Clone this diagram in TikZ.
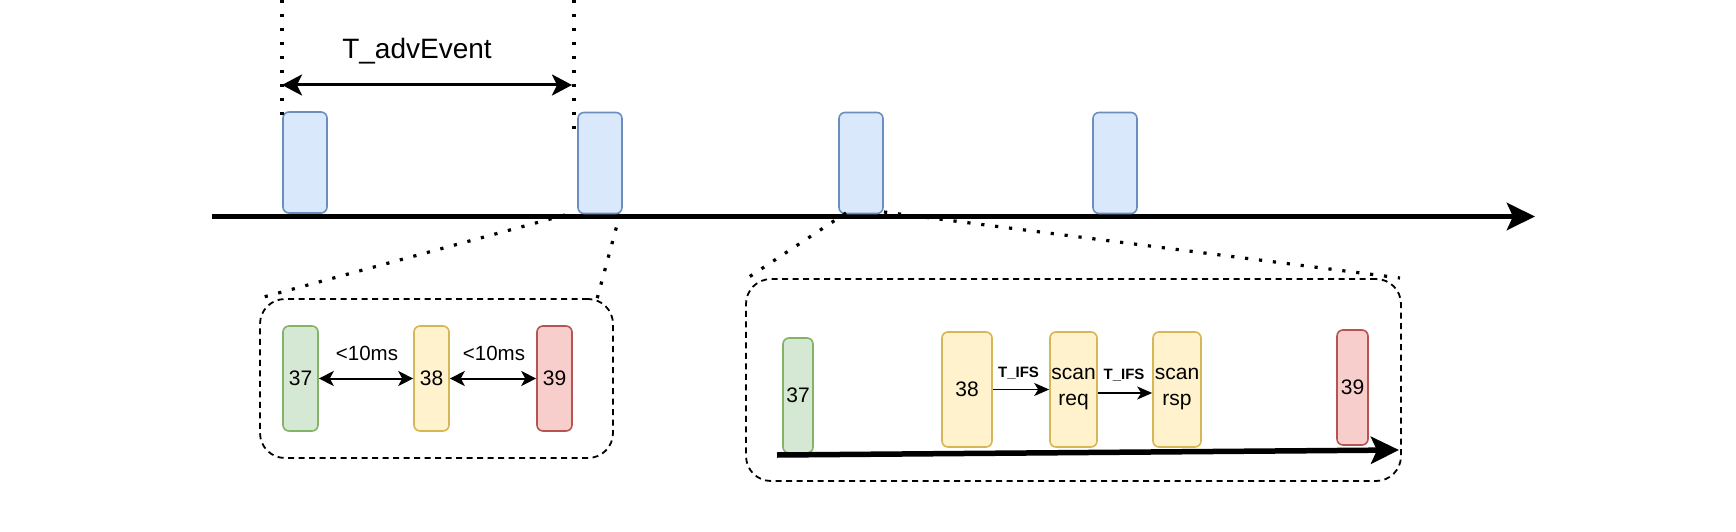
\documentclass[tikz,border=0pt]{standalone}
\usepackage{fontspec}
\setmainfont{Liberation Sans}
\usetikzlibrary{arrows.meta}
\definecolor{blueF}{HTML}{DAE8FC}\definecolor{blueD}{HTML}{6C8EBF}
\definecolor{greenF}{HTML}{D5E8D4}\definecolor{greenD}{HTML}{82B366}
\definecolor{yelF}{HTML}{FFF2CC}\definecolor{yelD}{HTML}{D6B656}
\definecolor{redF}{HTML}{F8CECC}\definecolor{redD}{HTML}{B85450}
\begin{document}
\begin{tikzpicture}[x=1pt,y=-1pt,
  box/.style={draw, rounded corners=6pt, line width=1.6pt, inner sep=0pt, align=center,
    font=\fontsize{21}{26}\selectfont},
  bluebox/.style={box, fill=blueF, draw=blueD, minimum width=44pt, minimum height=101pt},
  greenbox/.style={box, fill=greenF, draw=greenD},
  yelbox/.style={box, fill=yelF, draw=yelD},
  redbox/.style={box, fill=redF, draw=redD},
  dashbox/.style={draw, line width=1.8pt, dash pattern=on 6pt off 4.5pt, rounded corners=25pt, inner sep=0pt},
  dotline/.style={line width=3.2pt, dash pattern=on 3.2pt off 10.8pt},
  timeline/.style={line width=5.5pt, -{Stealth[length=28pt,width=27pt,inset=6pt]}},
  bigdbl/.style={line width=3pt, {Stealth[length=20pt,width=21pt,inset=5pt]}-{Stealth[length=20pt,width=21pt,inset=5pt]}},
  smalldbl/.style={line width=2pt, {Stealth[length=15pt,width=15pt,inset=4pt]}-{Stealth[length=15pt,width=15pt,inset=4pt]}},
  smallarr/.style={line width=1.8pt, -{Stealth[length=15pt,width=13pt,inset=4pt]}},
  lbl/.style={inner sep=0pt, anchor=base}
]
\useasboundingbox[fill=white] (0,0) rectangle (1736,532);

% dashed zoom boxes
\node[dashbox, minimum width=353pt, minimum height=159pt] (lbox) at (436.5,378.5) {};
\node[dashbox, minimum width=655pt, minimum height=202pt] (rbox) at (1073.5,380) {};

% main timeline
\coordinate (t0) at (212,216.5);
\coordinate (t1) at (1535,216.5);
\draw[timeline] (t0) -- (t1);

% advertising events
\node[bluebox] (b1) at (305,162.5) {};
\node[bluebox] (b2) at (600,163) {};
\node[bluebox] (b3) at (861,163) {};
\node[bluebox] (b4) at (1115,163) {};

% vertical dotted markers and T_advEvent
\coordinate (v1top) at (282,0);
\coordinate (v1bot) at (282,115);
\coordinate (v2top) at (574,0);
\coordinate (v2bot) at (574,137);
\draw[dotline] (v1top) -- (v1bot);
\draw[dotline] (v2top) -- (v2bot);
\coordinate (a1) at (282,85);
\coordinate (a2) at (572,85);
\draw[bigdbl] (a1) -- (a2);
\node[lbl, font=\fontsize{28}{32}\selectfont] (tadv) at (417,59) {T\_advEvent};

% zoom dotted lines
\coordinate (z1a) at (565,215);
\coordinate (z1b) at (260,298);
\coordinate (z2a) at (620,214);
\coordinate (z2b) at (597,299);
\coordinate (z3a) at (846,213);
\coordinate (z3b) at (746,279);
\coordinate (z4a) at (884,212);
\coordinate (z4b) at (1400,278);
\draw[dotline] (z1a) -- (z1b);
\draw[dotline] (z2a) -- (z2b);
\draw[dotline] (z3a) -- (z3b);
\draw[dotline] (z4a) -- (z4b);

% left zoom content
\node[greenbox, minimum width=35pt, minimum height=105pt] (l37) at (300.5,378.5) {37};
\node[yelbox, minimum width=35pt, minimum height=105pt] (l38) at (431.5,378.5) {38};
\node[redbox, minimum width=35pt, minimum height=105pt] (l39) at (554.5,378.5) {39};
\draw[smalldbl] (l37.east) -- (l38.west);
\draw[smalldbl] (l38.east) -- (l39.west);
\node[lbl, font=\fontsize{20.5}{24}\selectfont] (ms1) at (367,360) {<10ms};
\node[lbl, font=\fontsize{20.5}{24}\selectfont] (ms2) at (494,360) {<10ms};

% right zoom content
\node[greenbox, minimum width=30pt, minimum height=115pt] (r37) at (798,395.5) {37};
\node[yelbox, minimum width=50pt, minimum height=115pt] (r38) at (967,389.5) {38};
\node[yelbox, minimum width=47pt, minimum height=115pt] (sreq) at (1073.5,389.5) {scan\\req};
\node[yelbox, minimum width=48pt, minimum height=115pt] (srsp) at (1177,389.5) {scan\\rsp};
\node[redbox, minimum width=31pt, minimum height=115pt] (r39) at (1352.5,387.5) {39};
\coordinate (i0) at (777,455);
\coordinate (i1) at (1399,450);
\draw[timeline] (i0) -- (i1);
\draw[smallarr] (r38.east) -- (sreq.west);
\draw[smallarr] ([yshift=-3.5pt]sreq.east) -- ([yshift=-3.5pt]srsp.west);
\node[lbl, font=\bfseries\fontsize{15}{18}\selectfont] (ifs1) at (1018.5,377) {T\_IFS};
\node[lbl, font=\bfseries\fontsize{15}{18}\selectfont] (ifs2) at (1124,379) {T\_IFS};
\end{tikzpicture}
\end{document}
